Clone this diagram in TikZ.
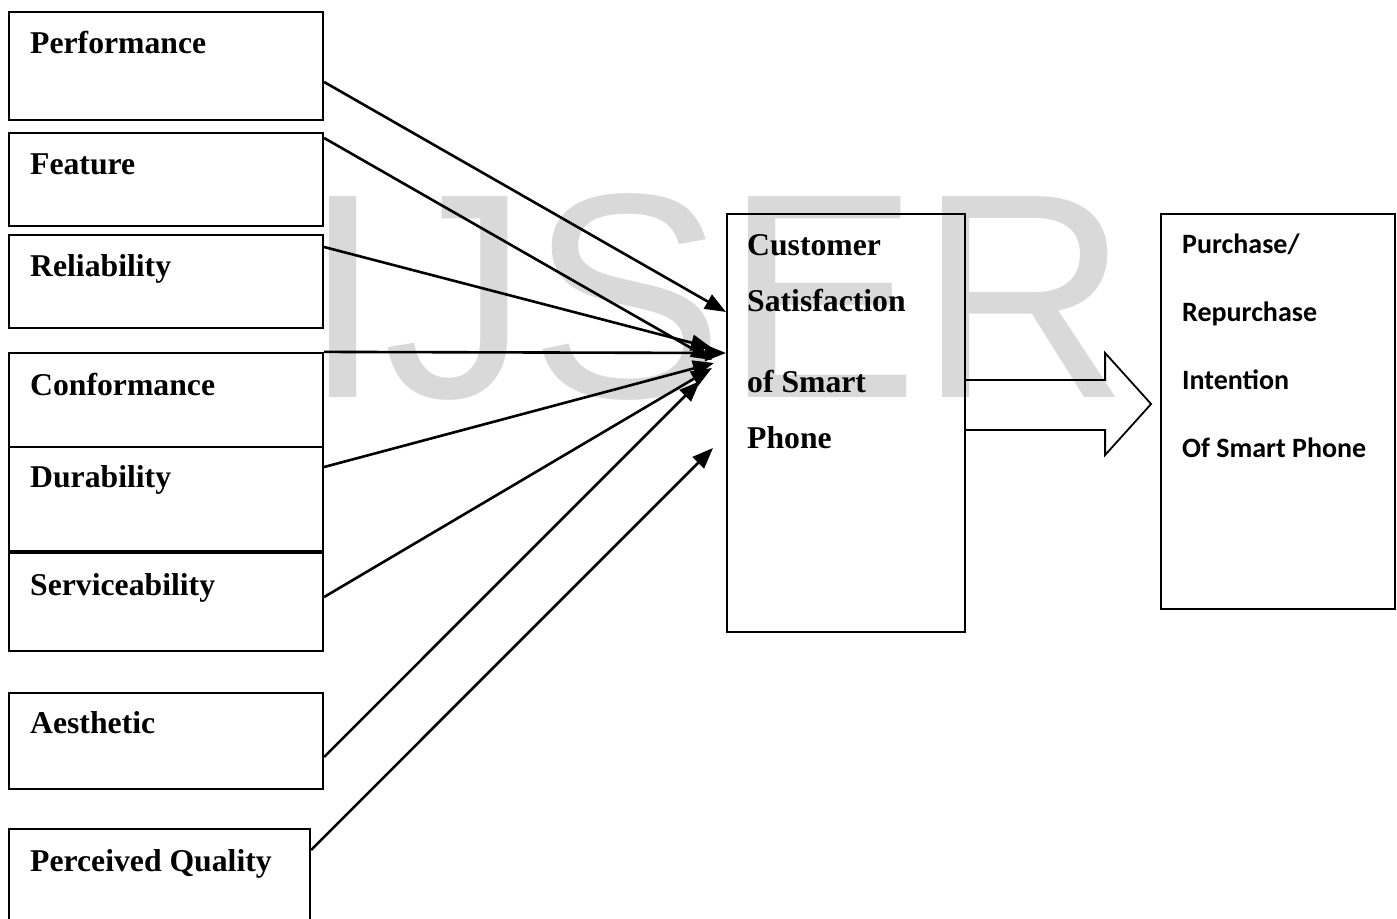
\documentclass[tikz,border=0pt]{standalone}
\usepackage{fontspec}
\setmainfont{Liberation Serif}
\newfontfamily\calib{Carlito}
\newfontfamily\arialf{Liberation Sans}
\usetikzlibrary{arrows.meta}
\tikzset{
  box/.style={draw=black, line width=2.2pt, rectangle, inner sep=0pt},
  lbl/.style={anchor=base west, inner sep=0pt, font=\fontsize{31.7}{38}\selectfont\bfseries},
  rlbl/.style={anchor=base west, inner sep=0pt, font=\calib\fontsize{28}{34}\selectfont\bfseries},
  arr/.style={line width=2.6pt, -{Triangle[length=21pt,width=16pt]}},
  blockarrow/.style={line width=1.8pt, line join=miter}
}
\begin{document}
\begin{tikzpicture}[x=1pt,y=-1pt]
\useasboundingbox (0,0) rectangle (1397,918);
\fill[white] (0,0) rectangle (1397,918);
% watermark
\node[anchor=base west, inner sep=0pt, text=black!15, font=\arialf\fontsize{292}{300}\selectfont] (wm) at (302,397) {IJSER};
% left boxes
\node[box, minimum width=314pt, minimum height=108pt] (perf) at (166,66) {};
\node[box, minimum width=314pt, minimum height=93pt] (feat) at (166,179.5) {};
\node[box, minimum width=314pt, minimum height=93pt] (rel) at (166,281.5) {};
\node[box, minimum width=314pt, minimum height=94pt] (conf) at (166,400) {};
\node[box, minimum width=314pt, minimum height=104pt] (dur) at (166,499) {};
\node[box, minimum width=314pt, minimum height=98pt] (serv) at (166,602) {};
\node[box, minimum width=314pt, minimum height=96pt] (aes) at (166,741) {};
\node[box, minimum width=301pt, minimum height=101pt] (perc) at (159.5,879.5) {};
% labels
\node[lbl] (perft) at (30,53) {Performance};
\node[lbl] (featt) at (30,174) {Feature};
\node[lbl] (relt) at (30,276) {Reliability};
\node[lbl] (conft) at (30,395) {Conformance};
\node[lbl] (durt) at (30,487) {Durability};
\node[lbl] (servt) at (30,595) {Serviceability};
\node[lbl] (aest) at (30,733) {Aesthetic};
\node[lbl] (perct) at (30,871) {Perceived Quality};
% central box
\node[box, minimum width=238pt, minimum height=418pt] (cs) at (846,423) {};
\node[lbl] (cs1) at (747,255) {Customer};
\node[lbl] (cs2) at (747,311) {Satisfaction};
\node[lbl] (cs3) at (747,392) {of Smart};
\node[lbl] (cs4) at (747,448) {Phone};
% right box
\node[box, minimum width=234pt, minimum height=395pt] (pr) at (1278,411.5) {};
\node[rlbl] (pr1) at (1182,253) {Purchase/};
\node[rlbl] (pr2) at (1182,321) {Repurchase};
\node[rlbl] (pr3) at (1182,389) {Intention};
\node[rlbl] (pr4) at (1182,457) {Of Smart Phone};
% arrow tips
\coordinate (tperf) at (726,312);
\coordinate (tfeat) at (712,360);
\coordinate (trel) at (712,348);
\coordinate (tconf) at (726,353);
\coordinate (tdur) at (714,363);
\coordinate (tserv) at (712,368);
\coordinate (taes) at (700,381);
\coordinate (tperc) at (713,448);
% arrows
\draw[arr] ([yshift=-16pt]perf.east) -- (tperf);
\draw[arr] ([yshift=41.5pt]feat.east) -- (tfeat);
\draw[arr] ([yshift=34.5pt]rel.east) -- (trel);
\draw[arr] (conf.north east) -- (tconf);
\draw[arr] ([yshift=32pt]dur.east) -- (tdur);
\draw[arr] ([yshift=5pt]serv.east) -- (tserv);
\draw[arr] ([yshift=-16pt]aes.east) -- (taes);
\draw[arr] ([yshift=29.5pt]perc.east) -- (tperc);
% block arrow
\draw[blockarrow] ([yshift=43pt]cs.east) -- ++(139,0) -- ++(0,-27) -- ++(46,51) -- ++(-46,51) -- ++(0,-25) -- ([yshift=-7pt]cs.east);
\end{tikzpicture}
\end{document}
